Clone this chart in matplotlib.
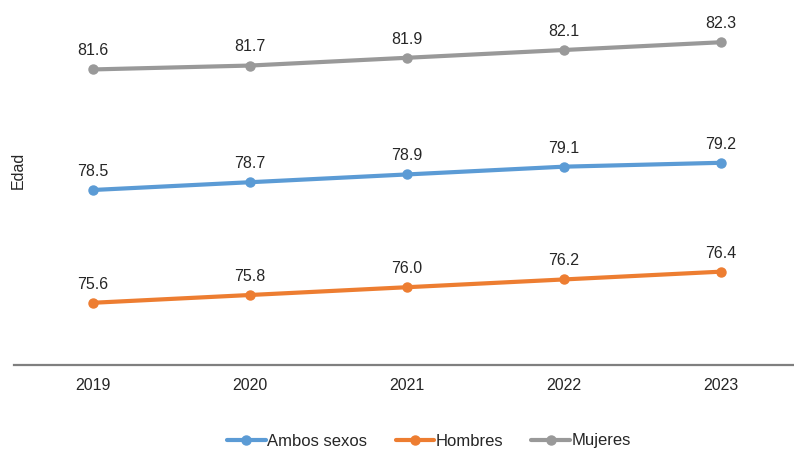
import matplotlib
matplotlib.use("Agg")
import matplotlib.pyplot as plt

plt.rcParams['font.family'] = ['Liberation Sans', 'DejaVu Sans']

years = ["2019", "2020", "2021", "2022", "2023"]
ambos = [78.5, 78.7, 78.9, 79.1, 79.2]
hombres = [75.6, 75.8, 76.0, 76.2, 76.4]
mujeres = [81.6, 81.7, 81.9, 82.1, 82.3]

series = [
    ("Ambos sexos", ambos, "#5B9BD5"),
    ("Hombres", hombres, "#ED7D31"),
    ("Mujeres", mujeres, "#999999"),
]

fig = plt.figure(figsize=(7.94, 4.5), dpi=100)
W, H = 794, 450
ax = fig.add_axes([14 / W, 1 - 365 / H, (794 - 14) / W, (365 - 15) / H])

FS = 11.5
x = list(range(len(years)))
for name, vals, col in series:
    ax.plot(x, vals, color=col, lw=3, marker='o', ms=6.5, label=name,
            solid_capstyle='round')
    for xi, v in zip(x, vals):
        ax.annotate(f"{v:.1f}", (xi, v), xytext=(0, 8), textcoords='offset points',
                    ha='center', va='bottom', fontsize=FS, color='#262626')

ax.set_xlim(-0.503, 4.465)
ax.set_ylim(74, 83)
ax.set_xticks(x)
ax.set_xticklabels(years, fontsize=FS, color='#262626')
ax.tick_params(axis='x', length=0, pad=9)
ax.set_yticks([])
for s in ['top', 'right', 'left']:
    ax.spines[s].set_visible(False)
ax.spines['bottom'].set_color('#7f7f7f')
ax.spines['bottom'].set_linewidth(1.6)

fig.text(18 / W, 1 - 170 / H, "Edad", rotation=90, ha='center', va='center',
         fontsize=FS, color='#262626')

leg = fig.legend(loc='center', bbox_to_anchor=(429 / W, 1 - 441 / H), ncol=3,
                 frameon=False, fontsize=12, handlelength=2.3, handletextpad=0.1,
                 columnspacing=1.7)
for t in leg.get_texts():
    t.set_color('#262626')

fig.savefig("out.png", dpi=100)
